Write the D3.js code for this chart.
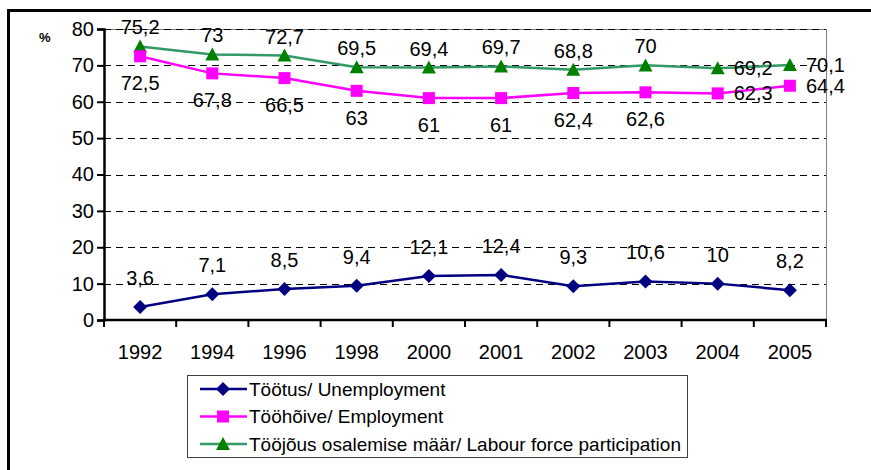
<!DOCTYPE html>
<html>
<head>
<meta charset="utf-8">
<script src="https://cdn.jsdelivr.net/npm/d3@7"></script>
<style>
  body { margin: 0; background: #fff; }
  svg { display: block; }
  text { font-family: Arial, "Liberation Sans", sans-serif; }
</style>
</head>
<body>
<svg id="chart" width="871" height="470"></svg>
<script>
// chart data
var years = ["1992", "1994", "1996", "1998", "2000", "2001", "2002", "2003", "2004", "2005"];
var unemployment = [3.6, 7.1, 8.5, 9.4, 12.1, 12.4, 9.3, 10.6, 10, 8.2];
var employment = [72.5, 67.8, 66.5, 63, 61, 61, 62.4, 62.6, 62.3, 64.4];
var participation = [75.2, 73, 72.7, 69.5, 69.4, 69.7, 68.8, 70, 69.2, 70.1];
var yTicks = [0, 10, 20, 30, 40, 50, 60, 70, 80];
var seriesNames = ["Töötus/ Unemployment", "Tööhõive/ Employment", "Tööjõus osalemise määr/ Labour force participation"];

var svg = d3.select("#chart");

// outer frame (runs off the right and bottom edges)
svg.append("rect")
    .attr("x", 8.5).attr("y", 10.5)
    .attr("width", 900).attr("height", 500)
    .attr("fill", "none").attr("stroke", "#000").attr("stroke-width", 3);

var plotLeft = 104, plotRight = 826, plotTop = 29, plotBottom = 320;

var x = d3.scaleBand().domain(years).range([plotLeft, plotRight]);
var y = d3.scaleLinear().domain([0, 80]).range([plotBottom, plotTop]);
var cx = function (d, i) { return x(years[i]) + x.bandwidth() / 2; };

// plot area border (top and right, grey)
svg.append("path")
    .attr("d", "M" + plotLeft + "," + (plotTop + 0.5) + "H" + (plotRight + 0.5) + "V" + plotBottom)
    .attr("fill", "none").attr("stroke", "#808080").attr("stroke-width", 1);

// gridlines
svg.append("g")
    .selectAll("line")
    .data(yTicks.slice(1))
    .enter()
    .append("line")
    .attr("x1", plotLeft).attr("x2", plotRight)
    .attr("y1", function (d) { return Math.round(y(d)) + 0.5; })
    .attr("y2", function (d) { return Math.round(y(d)) + 0.5; })
    .attr("stroke", "#000").attr("stroke-width", 1)
    .attr("stroke-dasharray", "7,5");

// y axis
var yAxis = svg.append("g")
    .attr("transform", "translate(" + plotLeft + ",0)")
    .call(d3.axisLeft(y).tickValues(yTicks).tickSize(7).tickPadding(3));
yAxis.select(".domain").attr("stroke-width", 2.5);
yAxis.selectAll(".tick line").attr("stroke-width", 2);
yAxis.selectAll("text").attr("font-size", "20px").attr("font-family", "Arial, 'Liberation Sans', sans-serif");

svg.append("text")
    .attr("x", 39).attr("y", 42)
    .attr("font-size", "13px").attr("font-weight", "bold")
    .text("%");

// x axis with ticks on band edges
var xAxis = svg.append("g")
    .attr("transform", "translate(0," + plotBottom + ")");
xAxis.append("line")
    .attr("x1", plotLeft - 1).attr("x2", plotRight + 1)
    .attr("stroke", "#000").attr("stroke-width", 2.5);
xAxis.selectAll("line.tk")
    .data(years.concat(["end"]))
    .enter()
    .append("line")
    .attr("class", "tk")
    .attr("x1", function (d, i) { return i < years.length ? x(d) : plotRight; })
    .attr("x2", function (d, i) { return i < years.length ? x(d) : plotRight; })
    .attr("y1", 0).attr("y2", 7)
    .attr("stroke", "#000").attr("stroke-width", 2);
xAxis.selectAll("text")
    .data(years)
    .enter()
    .append("text")
    .attr("x", function (d) { return x(d) + x.bandwidth() / 2; })
    .attr("y", 39)
    .attr("text-anchor", "middle")
    .attr("font-size", "20px")
    .text(function (d) { return d; });

var fmt = function (v) { return String(v).replace(".", ","); };

var line = d3.line()
    .x(cx)
    .y(function (d) { return y(d); });

function marker(g, shape, fill) {
    if (shape === "diamond") {
        g.append("path").attr("d", "M0,-7L7,0L0,7L-7,0Z").attr("fill", fill);
    } else if (shape === "square") {
        g.append("rect").attr("x", -6).attr("y", -6).attr("width", 12).attr("height", 12).attr("fill", fill);
    } else {
        g.append("path").attr("d", "M0,-7L7,6L-7,6Z").attr("fill", fill);
    }
}

var series = [
    { values: unemployment, stroke: "#000080", fill: "#000080", shape: "diamond", dy: -29 },
    { values: participation, stroke: "#339966", fill: "#008000", shape: "triangle", dy: -19 },
    { values: employment, stroke: "#FF00FF", fill: "#FF00FF", shape: "square", dy: 27 }
];

series.forEach(function (s) {
    svg.append("path")
        .datum(s.values)
        .attr("d", line)
        .attr("fill", "none")
        .attr("stroke", s.stroke)
        .attr("stroke-width", 2.5);

    svg.append("g")
        .selectAll("g")
        .data(s.values)
        .enter()
        .append("g")
        .attr("transform", function (d, i) { return "translate(" + cx(d, i) + "," + y(d) + ")"; })
        .each(function () { marker(d3.select(this), s.shape, s.fill); });
});

// data labels
series.forEach(function (s) {
    svg.append("g")
        .selectAll("text")
        .data(s.values)
        .enter()
        .append("text")
        .attr("font-size", "20px")
        .attr("dominant-baseline", "central")
        .attr("text-anchor", function (d, i) {
            return (s.shape !== "diamond" && i >= 8) ? "start" : "middle";
        })
        .attr("x", function (d, i) {
            return (s.shape !== "diamond" && i >= 8) ? cx(d, i) + 16 : cx(d, i);
        })
        .attr("y", function (d, i) {
            return (s.shape !== "diamond" && i >= 8) ? y(d) : y(d) + s.dy;
        })
        .text(fmt);
});

// legend
var legend = svg.append("g");
legend.append("rect")
    .attr("x", 187.5).attr("y", 375.5)
    .attr("width", 500).attr("height", 82)
    .attr("fill", "#fff").attr("stroke", "#404040").attr("stroke-width", 1);

var order = [series[0], series[2], series[1]];
order.forEach(function (s, i) {
    var ly = 389 + i * 27.5;
    legend.append("line")
        .attr("x1", 200).attr("x2", 247)
        .attr("y1", ly).attr("y2", ly)
        .attr("stroke", s.stroke).attr("stroke-width", 2.5);
    var m = legend.append("g").attr("transform", "translate(223," + ly + ")");
    marker(m, s.shape, s.fill);
    legend.append("text")
        .attr("x", 249).attr("y", ly)
        .attr("dominant-baseline", "central")
        .attr("font-size", "19px")
        .text(seriesNames[i]);
});
</script>
</body>
</html>
